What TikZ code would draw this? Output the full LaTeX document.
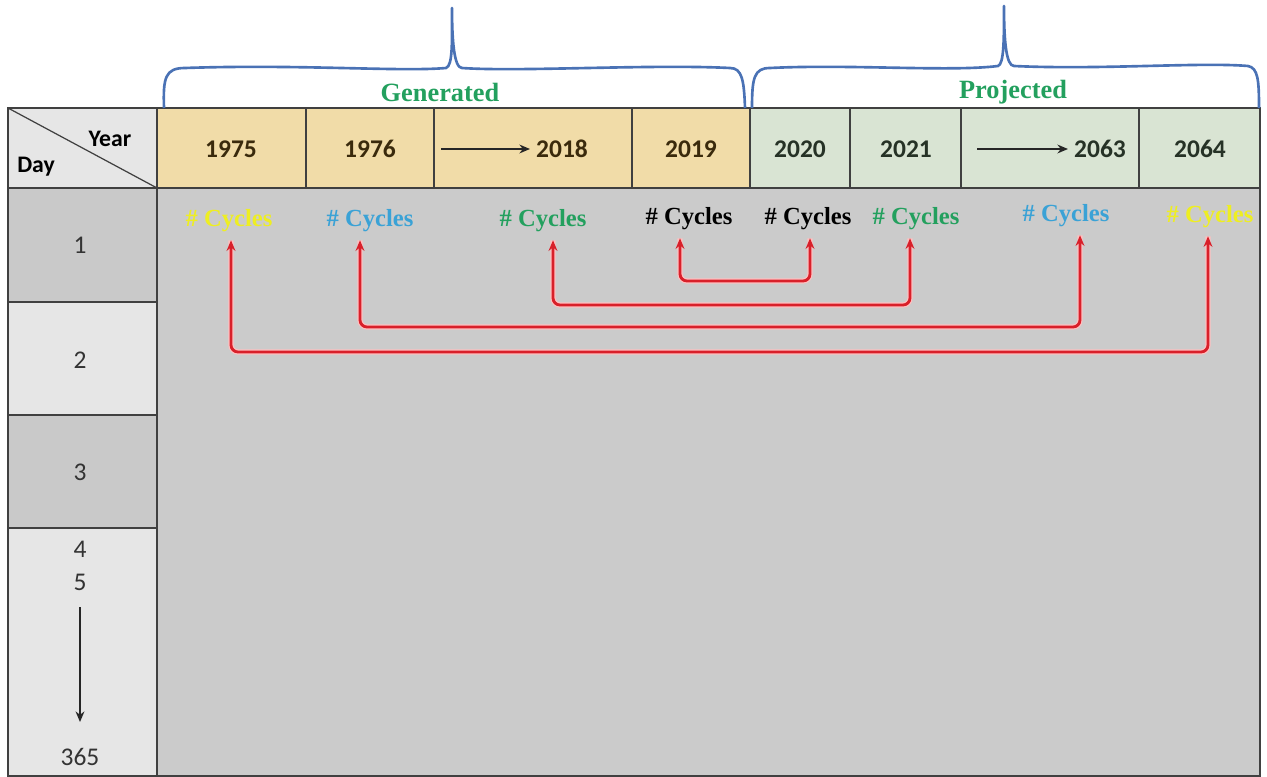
\documentclass[tikz,border=0pt]{standalone}
\usepackage{fontspec}
\setmainfont{Liberation Serif}
\newfontfamily\calfont{Carlito}
\usetikzlibrary{arrows.meta}
\definecolor{genfill}{HTML}{F1DCA8}
\definecolor{profill}{HTML}{D9E4D3}
\definecolor{cellgray}{HTML}{CBCBCB}
\definecolor{daydark}{HTML}{C9C9C9}
\definecolor{daylight}{HTML}{E6E6E6}
\definecolor{bracecol}{HTML}{4A72B5}
\definecolor{grntxt}{HTML}{23A05E}
\definecolor{blutxt}{HTML}{3AA2D6}
\definecolor{yeltxt}{HTML}{EEEE22}
\definecolor{gentxt}{HTML}{3A2A0C}
\definecolor{protxt}{HTML}{263226}
\definecolor{linkred}{HTML}{D8202A}

\begin{document}
\begin{tikzpicture}[x=0.02cm, y=-0.02cm,
    grid/.style={draw=black!75, line width=0.7pt},
    brace/.style={draw=bracecol, line width=1.5pt, line join=round},
    group/.style={font=\bfseries\fontsize{15}{15}\selectfont, text=grntxt},
    year/.style={font=\calfont\bfseries\fontsize{14.5}{14.5}\selectfont},
    daynum/.style={font=\calfont\fontsize{14.5}{14.5}\selectfont, text=black!80},
    cyc/.style={font=\bfseries\fontsize{14}{14}\selectfont, inner sep=1pt},
    link/.style={draw=linkred, line width=1.6pt, rounded corners=4pt, {Stealth[length=6pt,width=5pt]}-{Stealth[length=6pt,width=5pt]},
      preaction={draw=red!25, line width=3pt, arrows=-}},
    yrarrow/.style={draw=black!85, line width=1.2pt, -{Stealth[length=6pt,width=5pt]}}
    ]
    \useasboundingbox (0,0) rectangle (1267,777);

    % cells
    \fill[genfill] (157,108) rectangle (750,188);
    \fill[profill] (750,108) rectangle (1260,188);
    \fill[cellgray] (157,188) rectangle (1260,776);
    \fill[daylight] (8,108) rectangle (157,188);
    \fill[daydark] (8,188) rectangle (157,302);
    \fill[daylight] (8,302) rectangle (157,415);
    \fill[daydark] (8,415) rectangle (157,528);
    \fill[daylight] (8,528) rectangle (157,776);

    % grid lines
    \draw[grid] (8,108) rectangle (1260,776);
    \draw[grid] (8,188) -- (1260,188);
    \draw[grid] (157,108) -- (157,776);
    \foreach \y in {302,415,528}
      \draw[grid] (8,\y) -- (157,\y);
    \foreach \x in {306,434,632,750,850,961,1139}
      \draw[grid] (\x,108) -- (\x,188);
    \draw[grid] (8,108) -- (157,188);

    % braces
    \draw[brace] (164,108) .. controls (163,78) and (165,68) .. (185,68)
      .. controls (300,64) and (400,72) .. (446,68)
      .. controls (453,66) and (452,40) .. (452,8)
      .. controls (452,40) and (454,68) .. (462,68)
      .. controls (520,72) and (650,64) .. (730,68)
      .. controls (742,68) and (744,80) .. (745,108);
    \draw[brace] (752,108) .. controls (752,78) and (754,68) .. (770,68)
      .. controls (850,64) and (950,72) .. (998,66)
      .. controls (1004,64) and (1004,40) .. (1004,6)
      .. controls (1004,40) and (1006,66) .. (1014,66)
      .. controls (1100,70) and (1200,62) .. (1248,66)
      .. controls (1258,68) and (1259,80) .. (1259,108);
    \node[group] (gen) at (440,92) {Generated};
    \node[group] (proj) at (1013,92) {Projected};

    % header
    \node[year, font=\calfont\bfseries\fontsize{13.5}{13.5}\selectfont] (yr) at (110,139) {Year};
    \node[year, font=\calfont\bfseries\fontsize{13.5}{13.5}\selectfont] (dy) at (36,167) {Day};
    \node[year, text=gentxt] (y1975) at (231,149) {1975};
    \node[year, text=gentxt] (y1976) at (370,149) {1976};
    \node[year, text=gentxt] (y2018) at (562,149) {2018};
    \node[year, text=gentxt] (y2019) at (691,149) {2019};
    \node[year, text=protxt] (y2020) at (800,149) {2020};
    \node[year, text=protxt] (y2021) at (906,149) {2021};
    \node[year, text=protxt] (y2063) at (1100,149) {2063};
    \node[year, text=protxt] (y2064) at (1200,149) {2064};
    \coordinate (a2018) at (441,149);
    \coordinate (a2063) at (977,149);
    \draw[yrarrow] (a2018) -- (y2018.west);
    \draw[yrarrow] (a2063) -- (y2063.west);

    % days
    \node[daynum] (d1) at (80,245) {1};
    \node[daynum] (d2) at (80,360) {2};
    \node[daynum] (d3) at (80,472) {3};
    \node[daynum] (d4) at (80,549) {4};
    \node[daynum] (d5) at (80,582) {5};
    \node[daynum] (d365) at (80,757) {365};
    \coordinate (dtip) at (80,722);
    \draw[yrarrow] ([yshift=-6pt]d5.south) -- (dtip);

    % cycles
    \node[cyc, text=yeltxt] (c1) at (229,221) {\# Cycles};
    \node[cyc, text=blutxt] (c2) at (370,221) {\# Cycles};
    \node[cyc, text=grntxt] (c3) at (543,221) {\# Cycles};
    \node[cyc, text=black] (c4) at (689,219) {\# Cycles};
    \node[cyc, text=black] (c5) at (808,219) {\# Cycles};
    \node[cyc, text=grntxt] (c6) at (916,219) {\# Cycles};
    \node[cyc, text=blutxt] (c7) at (1066,216) {\# Cycles};
    \node[cyc, text=yeltxt] (c8) at (1210,217) {\# Cycles};

    \coordinate (s1) at ([shift={(2,6)}]c1.south);
    \coordinate (e1) at ([shift={(-2,6)}]c8.south);
    \coordinate (s2) at ([shift={(-10,6)}]c2.south);
    \coordinate (e2) at ([shift={(14,6)}]c7.south);
    \coordinate (s3) at ([shift={(10,6)}]c3.south);
    \coordinate (e3) at ([shift={(-6,6)}]c6.south);
    \coordinate (s4) at ([shift={(-9,6)}]c4.south);
    \coordinate (e4) at ([shift={(2,6)}]c5.south);
    \draw[link] (s1) -- (s1 |- 0,352) -| (e1);
    \draw[link] (s2) -- (s2 |- 0,327) -| (e2);
    \draw[link] (s3) -- (s3 |- 0,305) -| (e3);
    \draw[link] (s4) -- (s4 |- 0,281) -| (e4);
\end{tikzpicture}
\end{document}
